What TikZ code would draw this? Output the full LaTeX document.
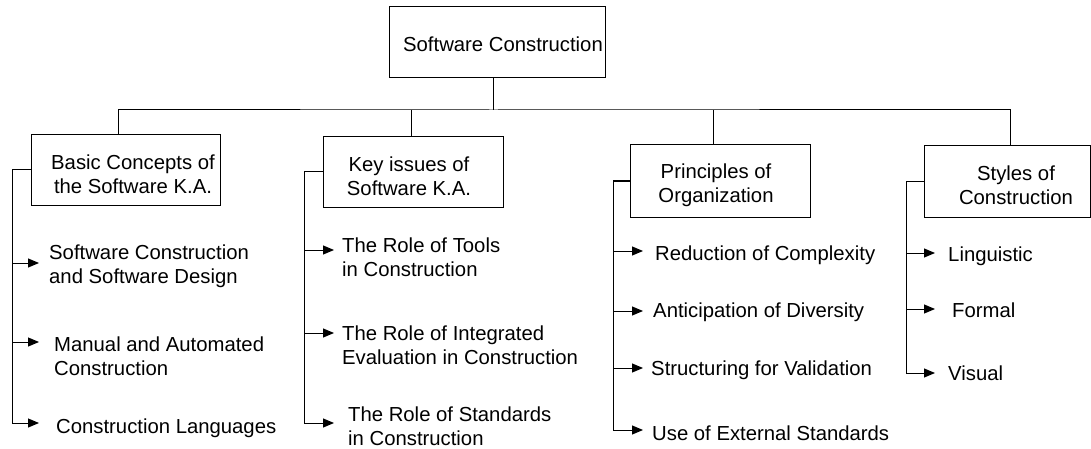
\documentclass[tikz,border=0pt]{standalone}
\usepackage{fontspec}
\setmainfont{Liberation Sans}
\usetikzlibrary{arrows.meta}
\begin{document}
\begin{tikzpicture}[x=1pt,y=-1pt,
  every node/.style={font=\fontsize{20.3}{24}\selectfont},
  box/.style={draw,line width=1pt,inner sep=0pt},
  boxtext/.style={align=center,inner sep=0pt},
  item/.style={anchor=west,align=left,inner sep=0pt},
  link/.style={line width=1pt},
  arr/.style={line width=1pt,-{Triangle[length=11pt,width=9pt]}}]
\useasboundingbox (0,0) rectangle (1091,449);

% top level
\node[box,minimum width=216pt,minimum height=71pt] (root) at (497,42.5) {};
\node[boxtext] (rootT) at (503,44) {Software Construction};

% second level boxes
\node[box,minimum width=189pt,minimum height=70pt] (basic) at (125.5,170) {};
\node[boxtext] (basicT) at (133,174) {Basic Concepts of\\ the Software K.A.};
\node[box,minimum width=180pt,minimum height=70pt] (key) at (413,172) {};
\node[boxtext] (keyT) at (409,176) {Key issues of\\ Software K.A.};
\node[box,minimum width=180pt,minimum height=72pt] (princ) at (720,181) {};
\node[boxtext] (princT) at (716,185) {Principles of\\Organization};
\node[box,minimum width=166pt,minimum height=71pt] (styles) at (1007,181.5) {};
\node[boxtext] (stylesT) at (1016,185) {Styles of\\Construction};

% bus joining the root to the second level
\coordinate (bus) at (493,110);
\draw[link] ([xshift=-4pt]root.south) -- (bus);
\draw[link] ([xshift=-7.5pt]basic.north) |- (bus) -| ([xshift=3pt]styles.north);
\draw[link] ([xshift=-2pt]key.north) -- ([xshift=-2pt]key.north |- bus);
\draw[link] ([xshift=-7pt]princ.north) -- ([xshift=-7pt]princ.north |- bus);

% leaf items
\node[item] (b1) at (49,266) {Software Construction\\and Software Design};
\node[item] (b2) at (54,356) {Manual and Automated\\Construction};
\node[item] (b3) at (56,428) {Construction Languages};
\node[item] (k1) at (342,257) {The Role of Tools\\in Construction};
\node[item] (k2) at (342,345) {The Role of Integrated\\Evaluation in Construction};
\node[item] (k3) at (348,426) {The Role of Standards\\in Construction};
\node[item] (p1) at (655,255) {Reduction of Complexity};
\node[item] (p2) at (653,312) {Anticipation of Diversity};
\node[item] (p3) at (651,370) {Structuring for Validation};
\node[item] (p4) at (652,433) {Use of External Standards};
\node[item] (s1) at (948,256) {Linguistic};
\node[item] (s2) at (952,310) {Formal};
\node[item] (s3) at (948,373) {Visual};

% arrow tips
\coordinate (ba1) at (39,263);
\coordinate (ba2) at (39,342);
\coordinate (ba3) at (39,423);
\coordinate (ka1) at (334,250);
\coordinate (ka2) at (334,333);
\coordinate (ka3) at (334,423);
\coordinate (pa1) at (643,251);
\coordinate (pa2) at (643,311);
\coordinate (pa3) at (643,368);
\coordinate (pa4) at (643,430);
\coordinate (sa1) at (935,253);
\coordinate (sa2) at (935,309);
\coordinate (sa3) at (935,373);

% trunks and arrows
\draw[arr] (basic.west) -| ([xshift=-27pt]ba3) -- (ba3);
\draw[arr] ([xshift=-27pt]ba1) -- (ba1);
\draw[arr] ([xshift=-27pt]ba2) -- (ba2);

\draw[arr] (key.west) -| ([xshift=-30pt]ka3) -- (ka3);
\draw[arr] ([xshift=-30pt]ka1) -- (ka1);
\draw[arr] ([xshift=-30pt]ka2) -- (ka2);

\draw[arr] (princ.west) -| ([xshift=-30pt]pa4) -- (pa4);
\draw[arr] ([xshift=-30pt]pa1) -- (pa1);
\draw[arr] ([xshift=-30pt]pa2) -- (pa2);
\draw[arr] ([xshift=-30pt]pa3) -- (pa3);

\draw[arr] (styles.west) -| ([xshift=-29pt]sa3) -- (sa3);
\draw[arr] ([xshift=-29pt]sa1) -- (sa1);
\draw[arr] ([xshift=-29pt]sa2) -- (sa2);
\end{tikzpicture}
\end{document}
